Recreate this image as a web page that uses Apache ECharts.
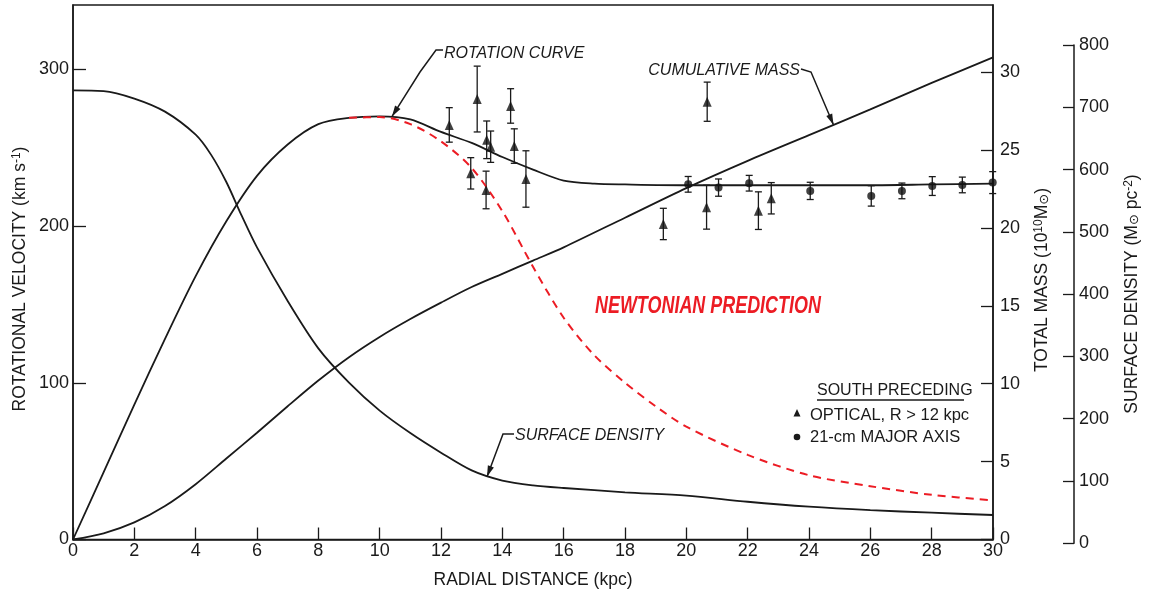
<!DOCTYPE html>
<html>
<head>
<meta charset="utf-8">
<script src="https://cdn.jsdelivr.net/npm/echarts@6/dist/echarts.min.js"></script>
<style>
  html, body { margin: 0; padding: 0; background: #ffffff; }
  #chart { width: 1157px; height: 595px; }
</style>
</head>
<body>
<div id="chart"></div>
<script>
// ---- model curves (radial distance in kpc) ----
const rotX = [0, 1, 2, 3, 4, 5, 6, 7, 8, 9, 10, 11, 12, 13, 14, 15, 16, 17, 18, 20, 22, 24, 26, 28, 30];
const rotV = [0, 43, 86, 128, 168, 203, 232, 252, 265, 269, 270, 268, 260, 253, 244, 236, 229, 227, 226.5, 226, 226, 226, 226, 226.5, 227];

const newtonX = [9, 10, 11, 12, 13, 14, 15, 16, 17, 18, 19, 20, 22, 24, 26, 28, 30];
const newtonV = [269, 269.5, 265, 254, 237, 209.5, 174, 141.5, 117.5, 100, 85, 72, 54, 41, 34, 28.5, 25];

const massX = [0, 1, 2, 3, 4, 5, 6, 7, 8, 9, 10, 11, 12, 13, 14, 15, 16, 18, 20, 22, 24, 26, 28, 30];
const massM = [0, 0.4, 1.1, 2.15, 3.55, 5.2, 6.85, 8.55, 10.2, 11.7, 13.0, 14.15, 15.2, 16.2, 17.05, 17.9, 18.75, 20.65, 22.55, 24.3, 25.95, 27.6, 29.3, 30.94];

const densX = [0, 1, 2, 3, 4, 4.5, 5, 5.5, 6, 7, 8, 9, 10, 11, 12, 13, 14, 15, 16, 18, 20, 22, 24, 26, 28, 30];
const densS = [727, 726, 714, 693, 656, 624, 580, 526, 475, 389, 313, 258, 213, 177, 145.5, 117, 100.7, 93, 88.8, 81.9, 76.5, 66.7, 58.8, 53.2, 49.1, 45.4];

// ---- observations: optical (R > 12 kpc) ----
const optX = [12.27, 12.97, 13.18, 13.47, 13.49, 13.62, 14.27, 14.39, 14.77, 19.25, 20.66, 20.68, 22.35, 22.77];
const optV = [264.5, 233.6, 281, 223, 255, 250.6, 276.6, 251, 230, 201.3, 212, 279.3, 209.8, 217.7];
const optErr = [11, 10, 21, 12, 12, 10, 11, 11, 18, 10, 14, 12.5, 12, 10];

// ---- observations: 21-cm major axis ----
const hiX = [20.06, 21.05, 22.05, 24.04, 26.03, 27.03, 28.02, 29.0, 29.99];
const hiV = [226.6, 224.5, 227.3, 222.4, 219.2, 222.4, 225.5, 226.2, 227.7];
const hiErr = [5, 5.5, 5, 5.5, 6.5, 5, 6, 5, 7];

// ---- axis ticks ----
const xTicks = [0, 2, 4, 6, 8, 10, 12, 14, 16, 18, 20, 22, 24, 26, 28, 30];
const velTicks = [0, 100, 200, 300];
const massTicks = [0, 5, 10, 15, 20, 25, 30];
const densTicks = [0, 100, 200, 300, 400, 500, 600, 700, 800];

const FONT = '"Liberation Sans", Arial, "DejaVu Sans", sans-serif';
const INK = '#1a1a1a';
const RED = '#ec1c24';
const SMOOTH = 0.3;

const zip = (xs, ys) => xs.map((x, i) => [x, ys[i]]);

function errorBars(xs, ys, errs) {
  return {
    type: 'custom',
    xAxisIndex: 0,
    yAxisIndex: 0,
    z: 3,
    encode: { x: 0, y: [1, 2] },
    data: xs.map((x, i) => [x, ys[i] - errs[i], ys[i] + errs[i]]),
    renderItem(params, api) {
      const lo = api.coord([api.value(0), api.value(1)]);
      const hi = api.coord([api.value(0), api.value(2)]);
      const w = 3.5;
      const st = { stroke: INK, lineWidth: 1.3 };
      return {
        type: 'group',
        children: [
          { type: 'line', shape: { x1: lo[0], y1: lo[1], x2: hi[0], y2: hi[1] }, style: st },
          { type: 'line', shape: { x1: lo[0] - w, y1: lo[1], x2: lo[0] + w, y2: lo[1] }, style: st },
          { type: 'line', shape: { x1: hi[0] - w, y1: hi[1], x2: hi[0] + w, y2: hi[1] }, style: st }
        ]
      };
    }
  };
}

const axisLineStyle = { color: INK, width: 1.5 };
const labelStyle = { color: INK, fontSize: 18, fontFamily: FONT };

const option = {
  animation: false,
  backgroundColor: '#ffffff',
  grid: [
    { left: 73, right: 164, top: 5, bottom: 55.5, containLabel: false, outerBoundsMode: 'none',
      show: true, borderColor: INK, borderWidth: 1.5, backgroundColor: 'transparent' },
    { left: 1060, right: 83, top: 45, bottom: 51.7, containLabel: false, outerBoundsMode: 'none' }
  ],
  xAxis: [
    {
      type: 'value', gridIndex: 0, min: 0, max: 30, interval: 2, position: 'bottom',
      axisLine: { show: true, onZero: false, lineStyle: axisLineStyle },
      axisTick: { show: true, inside: true, length: 12, lineStyle: { color: INK, width: 1.3 } },
      axisLabel: Object.assign({ margin: 3, customValues: xTicks }, labelStyle),
      splitLine: { show: false }
    },
    { type: 'value', gridIndex: 1, min: 0, max: 1, show: false }
  ],
  yAxis: [
    {
      type: 'value', gridIndex: 0, position: 'left', min: 0, max: 341,
      axisLine: { show: true, onZero: false, lineStyle: axisLineStyle },
      axisTick: { show: true, inside: true, length: 13, customValues: velTicks, lineStyle: { color: INK, width: 1.3 } },
      axisLabel: Object.assign({ margin: 4, customValues: velTicks }, labelStyle),
      splitLine: { show: false }
    },
    {
      type: 'value', gridIndex: 0, position: 'right', min: 0, max: 34.3,
      axisLine: { show: true, onZero: false, lineStyle: axisLineStyle },
      axisTick: { show: true, inside: true, length: 12, customValues: massTicks, lineStyle: { color: INK, width: 1.3 } },
      axisLabel: Object.assign({ margin: 7, customValues: massTicks }, labelStyle),
      splitLine: { show: false }
    },
    {
      // surface density scale for the curve, shares the plot area
      type: 'value', gridIndex: 0, position: 'right', min: 6.1, max: 864.2, show: false
    },
    {
      // visible surface density axis
      type: 'value', gridIndex: 1, position: 'right', min: 0, max: 800, interval: 100,
      axisLine: { show: true, onZero: false, lineStyle: axisLineStyle },
      axisTick: { show: true, inside: true, length: 11, lineStyle: { color: INK, width: 1.3 } },
      axisLabel: Object.assign({ margin: 5, customValues: densTicks }, labelStyle),
      splitLine: { show: false }
    }
  ],
  series: [
    {
      name: 'Rotation curve', type: 'line', xAxisIndex: 0, yAxisIndex: 0,
      data: zip(rotX, rotV), smooth: SMOOTH, symbol: 'none',
      lineStyle: { color: INK, width: 1.8 }, z: 2
    },
    {
      name: 'Cumulative mass', type: 'line', xAxisIndex: 0, yAxisIndex: 1,
      data: zip(massX, massM), smooth: SMOOTH, symbol: 'none',
      lineStyle: { color: INK, width: 1.8 }, z: 2
    },
    {
      name: 'Surface density', type: 'line', xAxisIndex: 0, yAxisIndex: 2,
      data: zip(densX, densS), smooth: SMOOTH, symbol: 'none',
      lineStyle: { color: INK, width: 1.8 }, z: 2
    },
    {
      name: 'Newtonian prediction', type: 'line', xAxisIndex: 0, yAxisIndex: 0,
      data: zip(newtonX, newtonV), smooth: SMOOTH, symbol: 'none',
      lineStyle: { color: RED, width: 2, type: [8, 6] }, z: 4
    },
    errorBars(optX, optV, optErr),
    errorBars(hiX, hiV, hiErr),
    {
      name: 'Optical', type: 'scatter', xAxisIndex: 0, yAxisIndex: 0,
      data: zip(optX, optV), symbol: 'triangle', symbolSize: [9, 10],
      itemStyle: { color: '#111111' }, z: 5
    },
    {
      name: '21-cm', type: 'scatter', xAxisIndex: 0, yAxisIndex: 0,
      data: zip(hiX, hiV), symbol: 'circle', symbolSize: 8,
      itemStyle: { color: '#111111' }, z: 5
    }
  ]
};

const chart = echarts.init(document.getElementById('chart'), null, { renderer: 'canvas' });
chart.setOption(option);

// ---- annotations ----
function txt(x, y, text, extra, elOpts) {
  return Object.assign({
    type: 'text', x: x, y: y, z: 10,
    style: Object.assign({
      text: text, fill: INK, fontSize: 16, fontFamily: FONT,
      align: 'left', verticalAlign: 'middle', textAlign: 'left', textVerticalAlign: 'middle'
    }, extra || {})
  }, elOpts || {});
}

function arrowHead(tip, from, len, half) {
  const dx = tip[0] - from[0], dy = tip[1] - from[1];
  const d = Math.hypot(dx, dy);
  const ux = dx / d, uy = dy / d;
  const bx = tip[0] - ux * len, by = tip[1] - uy * len;
  return {
    type: 'polygon', z: 10,
    shape: { points: [tip, [bx - uy * half, by + ux * half], [bx + uy * half, by - ux * half]] },
    style: { fill: INK }
  };
}

function leader(points) {
  return { type: 'polyline', z: 10, shape: { points: points }, style: { stroke: INK, lineWidth: 1.5, fill: null } };
}

const tipRot = chart.convertToPixel({ seriesIndex: 0 }, [10.4, 269.8]);
const tipMass = chart.convertToPixel({ seriesIndex: 1 }, [24.8, 26.6]);
const tipDens = chart.convertToPixel({ seriesIndex: 2 }, [13.5, 107]);

const richBase = { fontSize: 17.5, fontFamily: FONT, fill: INK, color: INK };
const richSup = { fontSize: 12, fontFamily: FONT, fill: INK, color: INK, verticalAlign: 'top' };
const richSub = { fontSize: 13, fontFamily: '"DejaVu Sans", sans-serif', fill: INK, color: INK, verticalAlign: 'bottom' };

const italic = { fontStyle: 'italic', fontSize: 16 };

const graphics = [
  // axis titles
  txt(533, 580, 'RADIAL DISTANCE (kpc)', { fontSize: 17.5, align: 'center', textAlign: 'center' }),
  {
    type: 'text', x: 20, y: 279, rotation: Math.PI / 2, z: 10,
    style: {
      text: '{a|ROTATIONAL VELOCITY (km s}{s|-1}{a|)}',
      rich: { a: richBase, s: richSup },
      align: 'center', verticalAlign: 'middle', textAlign: 'center', textVerticalAlign: 'middle'
    }
  },
  {
    type: 'text', x: 1042, y: 280, rotation: Math.PI / 2, z: 10,
    style: {
      text: '{a|TOTAL MASS (10}{s|10}{a|M}{b|\u2299}{a|)}',
      rich: { a: richBase, s: richSup, b: richSub },
      align: 'center', verticalAlign: 'middle', textAlign: 'center', textVerticalAlign: 'middle'
    }
  },
  {
    type: 'text', x: 1132, y: 294, rotation: Math.PI / 2, z: 10,
    style: {
      text: '{a|SURFACE DENSITY (M}{b|\u2299}{a| pc}{s|-2}{a|)}',
      rich: { a: richBase, s: richSup, b: richSub },
      align: 'center', verticalAlign: 'middle', textAlign: 'center', textVerticalAlign: 'middle'
    }
  },

  // curve labels with leaders
  txt(444, 54, 'ROTATION CURVE', italic),
  leader([[443, 50], [436, 50], [420, 72], tipRot]),
  arrowHead(tipRot, [420, 72], 11, 3.2),

  txt(800, 71, 'CUMULATIVE MASS', Object.assign({ align: 'right', textAlign: 'right' }, italic)),
  leader([[801, 69], [811, 72], tipMass]),
  arrowHead(tipMass, [811, 72], 11, 3.2),

  txt(515, 436, 'SURFACE DENSITY', italic),
  leader([[514, 434], [503, 434], tipDens]),
  arrowHead(tipDens, [503, 434], 11, 3.2),

  // Newtonian prediction label
  txt(595, 307, 'NEWTONIAN PREDICTION',
      { fill: RED, fontSize: 23, fontWeight: 'bold', fontStyle: 'italic' },
      { scaleX: 0.78 }),

  // key
  txt(817, 391, 'SOUTH PRECEDING', { fontSize: 16 }),
  { type: 'line', z: 10, shape: { x1: 817, y1: 400, x2: 964, y2: 400 }, style: { stroke: INK, lineWidth: 1.3 } },
  { type: 'polygon', z: 10, shape: { points: [[797, 409], [793.5, 416.5], [800.5, 416.5]] }, style: { fill: INK } },
  txt(810, 415, 'OPTICAL, R > 12 kpc', { fontSize: 16.5 }),
  { type: 'circle', z: 10, shape: { cx: 797, cy: 437, r: 3.3 }, style: { fill: INK } },
  txt(810, 437, '21-cm MAJOR AXIS', { fontSize: 16.5 })
];

chart.setOption({ graphic: graphics });
</script>
</body>
</html>
